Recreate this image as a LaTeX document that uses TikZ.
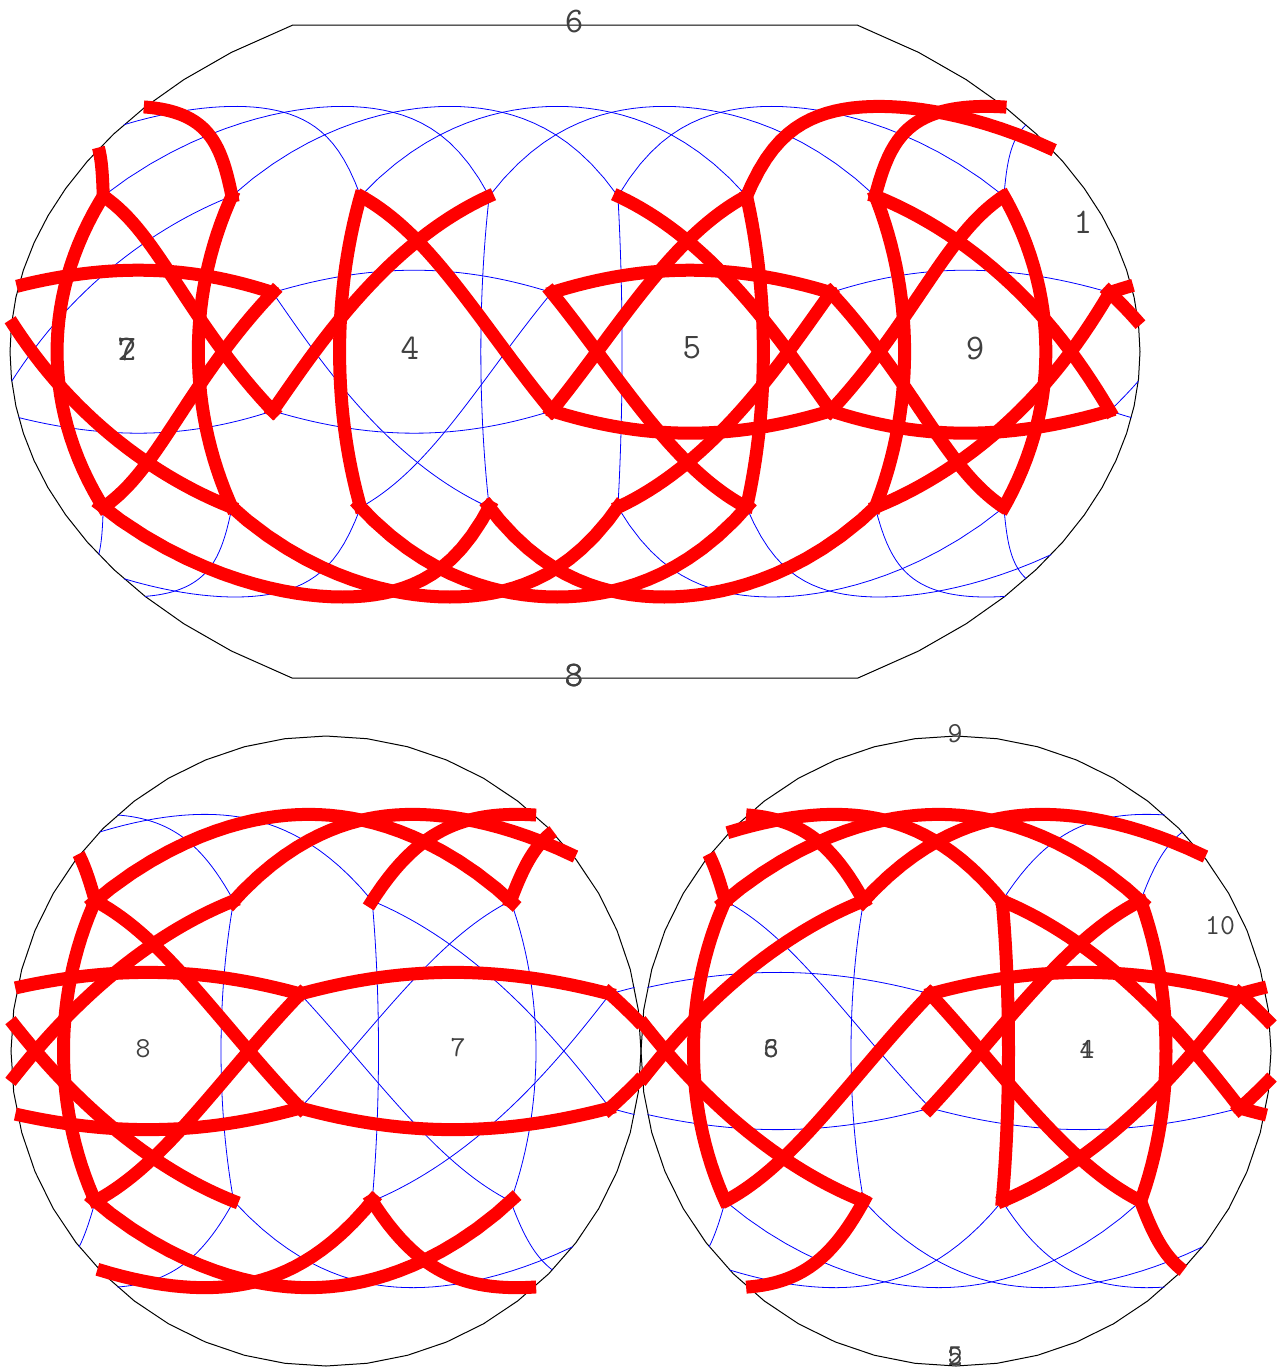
\documentclass[tikz,border=0pt]{standalone}
\usepackage{fontspec}
\tikzset{
  blueline/.style={draw=blue,line width=0.8pt},
  redline/.style={draw=red,line width=13pt,line cap=butt,line join=miter},
  outline/.style={draw=black,line width=1pt},
  biglabel/.style={inner sep=0pt,text=black!75,font=\fontsize{36}{36}\selectfont\ttfamily},
  smalllabel/.style={inner sep=0pt,text=black!75,font=\fontsize{29}{29}\selectfont\ttfamily}
}
\def\la{42.9}
\def\lb{16.3}
\def\pad{0}
\def\sd{0}
% one piece of a great-circle arc on the upper map
\newcommand\tpiece[8]{\draw[#1] plot[variable=\l,domain=#2-\pad:#3+\pad,samples=31]
  ({kx(\l-#4,gc(\l,#5,#6,#7,#8))},{ky(gc(\l,#5,#6,#7,#8))});}
% whole arc on the upper map, cut at the seam at 180
\newcommand\tarc[5]{%
  \ifdim #4pt>180pt
    \ifdim #2pt<180pt
      \tpiece{#1}{#2}{180-\sd}{0}{#2}{#3}{#4}{#5}%
      \tpiece{#1}{180+\sd}{#4}{360}{#2}{#3}{#4}{#5}%
    \else
      \tpiece{#1}{#2}{#4}{360}{#2}{#3}{#4}{#5}%
    \fi
  \else
    \tpiece{#1}{#2}{#4}{0}{#2}{#3}{#4}{#5}%
  \fi}
\newcommand\tmer[2]{\draw[#1] plot[variable=\p,domain=-\la-\pad:\la+\pad,samples=31] ({kx(#2,\p)},{ky(\p)});}
% one piece on a lower disc
\newcommand\dpiece[9]{\draw[#1] plot[variable=\l,domain=#2-\pad:#3+\pad,samples=31]
  ({ax(#4,\l-#5,gc(\l,#6,#7,#8,#9))},{ay(gc(\l,#6,#7,#8,#9))});}
% whole arc on the lower discs, cut at 90 and 270
\newcommand\darc[5]{%
  \ifdim #4pt>270pt
    \ifdim #2pt<270pt
      \dpiece{#1}{#2}{270-\sd}{956}{180}{#2}{#3}{#4}{#5}%
      \dpiece{#1}{270+\sd}{#4}{326}{360}{#2}{#3}{#4}{#5}%
    \else
      \dpiece{#1}{#2}{#4}{326}{360}{#2}{#3}{#4}{#5}%
    \fi
  \else
    \ifdim #4pt>90pt
      \ifdim #2pt<90pt
        \dpiece{#1}{#2}{90-\sd}{326}{0}{#2}{#3}{#4}{#5}%
        \dpiece{#1}{90+\sd}{#4}{956}{180}{#2}{#3}{#4}{#5}%
      \else
        \dpiece{#1}{#2}{#4}{956}{180}{#2}{#3}{#4}{#5}%
      \fi
    \else
      \dpiece{#1}{#2}{#4}{326}{0}{#2}{#3}{#4}{#5}%
    \fi
  \fi}
\newcommand\dmer[3]{\draw[#1] plot[variable=\p,domain=-\la-\pad:\la+\pad,samples=31] ({ax(#2,#3,\p)},{ay(\p)});}
\begin{document}
\begin{tikzpicture}[x=1pt,y=-1pt,
  declare function={
    gc(\l,\a,\p,\b,\q)=atan((tan(\p)*sin(\b-\l)+tan(\q)*sin(\l-\a))/sin(\b-\a));
    kx(\l,\p)=575+3.139*\l*sqrt(1-3*(\p/180)*(\p/180));
    ky(\p)=351.7-3.628*\p;
    ax(\c,\d,\p)=\c+3.5*\d*sqrt(1-(\p/90)*(\p/90));
    ay(\p)=1051-3.5*\p;
  }]
\useasboundingbox (0,0) rectangle (1280,1370);
% ---- outlines
\draw[outline] plot[variable=\p,domain=90:-90,samples=25] ({575+565*sqrt(1-3*(\p/180)*(\p/180))},{ky(\p)})
  -- plot[variable=\p,domain=-90:90,samples=25] ({575-565*sqrt(1-3*(\p/180)*(\p/180))},{ky(\p)}) -- cycle;
\draw[outline] plot[domain=0:360,samples=49] ({326+315*cos(\x)},{1051+315*sin(\x)}) -- cycle;
\draw[outline] plot[domain=0:360,samples=49] ({956+315*cos(\x)},{1051+315*sin(\x)}) -- cycle;
% ---- upper map, blue
\tarc{blueline}{-165}{\la}{-30}{\la}
\tarc{blueline}{-120}{\la}{15}{\la}
\tarc{blueline}{-75}{\la}{60}{\la}
\tarc{blueline}{-30}{\la}{105}{\la}
\tarc{blueline}{15}{\la}{150}{\la}
\tarc{blueline}{150}{\la}{285}{\la}
\tarc{blueline}{15}{-\la}{150}{-\la}
\tarc{blueline}{60}{-\la}{195}{-\la}
\tarc{blueline}{105}{-\la}{240}{-\la}
\tarc{blueline}{150}{-\la}{285}{-\la}
\tmer{blueline}{-30}
\tmer{blueline}{15}
\tarc{blueline}{172.5}{-\lb}{240}{\la}
\tarc{blueline}{-97.5}{\lb}{-30}{-\la}
\tarc{blueline}{-75}{-\la}{-7.5}{\lb}
\tarc{blueline}{-97.5}{\lb}{-7.5}{\lb}
\tarc{blueline}{82.5}{\lb}{172.5}{\lb}
\tarc{blueline}{-97.5}{-\lb}{-7.5}{-\lb}
\tarc{blueline}{172.5}{-\lb}{262.5}{-\lb}
% ---- lower discs, blue
\darc{blueline}{195}{\la}{330}{\la}
\darc{blueline}{240}{\la}{375}{\la}
\darc{blueline}{-30}{-\la}{105}{-\la}
\darc{blueline}{60}{-\la}{195}{-\la}
\darc{blueline}{105}{-\la}{240}{-\la}
\darc{blueline}{150}{-\la}{285}{-\la}
\darc{blueline}{195}{-\la}{330}{-\la}
\dmer{blueline}{326}{-30}
\dmer{blueline}{326}{15}
\dmer{blueline}{326}{60}
\dmer{blueline}{956}{-30}
\darc{blueline}{-7.5}{\lb}{60}{-\la}
\darc{blueline}{15}{-\la}{82.5}{\lb}
\darc{blueline}{-7.5}{-\lb}{60}{\la}
\darc{blueline}{15}{\la}{82.5}{-\lb}
\darc{blueline}{105}{\la}{172.5}{-\lb}
\darc{blueline}{82.5}{\lb}{172.5}{\lb}
\darc{blueline}{82.5}{-\lb}{172.5}{-\lb}
\darc{blueline}{172.5}{-\lb}{262.5}{-\lb}
% ---- red arcs run a little past their end points
\def\pad{1.4}
\def\sd{0.8}
% ---- upper map, red
\tarc{redline}{60}{\la}{195}{\la}
\tarc{redline}{105}{\la}{240}{\la}
\tarc{redline}{-165}{-\la}{-30}{-\la}
\tarc{redline}{-120}{-\la}{15}{-\la}
\tarc{redline}{-75}{-\la}{60}{-\la}
\tarc{redline}{-30}{-\la}{105}{-\la}
\tmer{redline}{-165}
\tmer{redline}{-120}
\tmer{redline}{-75}
\tmer{redline}{60}
\tmer{redline}{105}
\tmer{redline}{150}
\tarc{redline}{-165}{\la}{-97.5}{-\lb}
\tarc{redline}{-97.5}{-\lb}{-30}{\la}
\tarc{redline}{-75}{\la}{-7.5}{-\lb}
\tarc{redline}{-7.5}{-\lb}{60}{\la}
\tarc{redline}{15}{\la}{82.5}{-\lb}
\tarc{redline}{82.5}{-\lb}{150}{\la}
\tarc{redline}{105}{\la}{172.5}{-\lb}
\tarc{redline}{-165}{-\la}{-97.5}{\lb}
\tarc{redline}{-7.5}{\lb}{60}{-\la}
\tarc{redline}{15}{-\la}{82.5}{\lb}
\tarc{redline}{82.5}{\lb}{150}{-\la}
\tarc{redline}{105}{-\la}{172.5}{\lb}
\tarc{redline}{172.5}{\lb}{240}{-\la}
\tarc{redline}{-7.5}{\lb}{82.5}{\lb}
\tarc{redline}{172.5}{\lb}{262.5}{\lb}
\tarc{redline}{-7.5}{-\lb}{82.5}{-\lb}
\tarc{redline}{82.5}{-\lb}{172.5}{-\lb}
% ---- lower discs, red
\darc{redline}{-75}{\la}{60}{\la}
\darc{redline}{-30}{\la}{105}{\la}
\darc{redline}{15}{\la}{150}{\la}
\darc{redline}{60}{\la}{195}{\la}
\darc{redline}{105}{\la}{240}{\la}
\darc{redline}{150}{\la}{285}{\la}
\darc{redline}{-75}{-\la}{60}{-\la}
\darc{redline}{15}{-\la}{150}{-\la}
\darc{redline}{240}{-\la}{375}{-\la}
\dmer{redline}{326}{-75}
\dmer{redline}{956}{-75}
\dmer{redline}{956}{15}
\dmer{redline}{956}{60}
\darc{redline}{-75}{-\la}{-7.5}{\lb}
\darc{redline}{82.5}{\lb}{150}{-\la}
\darc{redline}{105}{-\la}{172.5}{\lb}
\darc{redline}{172.5}{\lb}{240}{-\la}
\darc{redline}{195}{-\la}{262.5}{\lb}
\darc{redline}{262.5}{\lb}{330}{-\la}
\darc{redline}{-75}{\la}{-7.5}{-\lb}
\darc{redline}{82.5}{-\lb}{150}{\la}
\darc{redline}{172.5}{-\lb}{240}{\la}
\darc{redline}{195}{\la}{262.5}{-\lb}
\darc{redline}{262.5}{-\lb}{330}{\la}
\darc{redline}{-7.5}{\lb}{82.5}{\lb}
\darc{redline}{172.5}{\lb}{262.5}{\lb}
\darc{redline}{262.5}{\lb}{352.5}{\lb}
\darc{redline}{-7.5}{-\lb}{82.5}{-\lb}
\darc{redline}{262.5}{-\lb}{352.5}{-\lb}
% ---- labels
\node[biglabel] (t6) at (574,22) {6};
\node[biglabel] (t1) at (1083,222) {1};
\node[biglabel] (t7) at (127,349) {7};
\node[biglabel] (t2) at (127,349) {2};
\node[biglabel] (t4) at (410,348) {4};
\node[biglabel] (t5) at (692,348) {5};
\node[biglabel] (t9) at (975,348) {9};
\node[biglabel] (t8) at (574,675) {8};
\node[biglabel] (t3) at (574,675) {3};
\node[smalllabel] (l8) at (143,1049) {8};
\node[smalllabel] (l7) at (458,1048) {7};
\node[smalllabel] (r3) at (771,1049) {3};
\node[smalllabel] (r6) at (771,1049) {6};
\node[smalllabel] (r1) at (1087,1049) {1};
\node[smalllabel] (r4) at (1087,1049) {4};
\node[smalllabel] (r10) at (1220,926) {10};
\node[smalllabel] (r9) at (955,734) {9};
\node[smalllabel] (r5) at (955,1356) {5};
\node[smalllabel] (r2) at (955,1356) {2};
\end{tikzpicture}
\end{document}
